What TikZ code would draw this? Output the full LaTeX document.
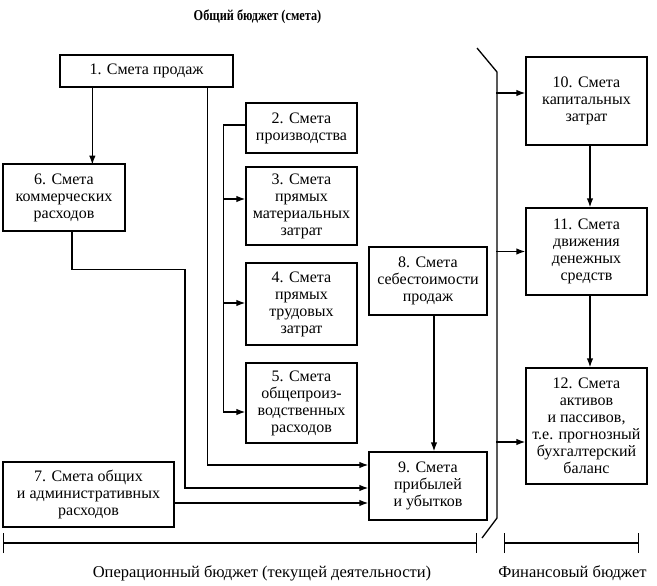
\documentclass[tikz,border=0pt]{standalone}
\usepackage{fontspec}
\setmainfont{Liberation Serif}
\newfontfamily\headfont[FakeStretch=0.82]{Liberation Serif}
\usetikzlibrary{arrows.meta}

\begin{document}
\begin{tikzpicture}[x=1pt,y=-1pt,
  box/.style={draw, line width=1.3pt, align=center, inner sep=0pt,
    font=\fontsize{16}{17}\selectfont},
  link/.style={line width=1.3pt, -{Latex[length=9pt,width=6.5pt]}},
  line/.style={line width=1.3pt},
  span/.style={line width=1.3pt, {Bar[width=20pt]}-{Bar[width=20pt]}},
  caption/.style={font=\fontsize{16.5}{18}\selectfont}]
\useasboundingbox (0,0) rectangle (657,586);

\node[font=\headfont\bfseries\fontsize{15}{17}\selectfont] (title) at (257.5,17) {Общий бюджет (смета)};

% operating budget
\node[box, minimum width=173, minimum height=32] (b1) at (146.5,71) {1. Смета продаж};
\node[box, minimum width=111, minimum height=50] (b2) at (301.5,128) {2. Смета\\производства};
\node[box, minimum width=111, minimum height=78] (b3) at (301.5,206) {3. Смета\\прямых\\материальных\\затрат};
\node[box, minimum width=111, minimum height=82] (b4) at (301.5,304) {4. Смета\\прямых\\трудовых\\затрат};
\node[box, minimum width=111, minimum height=80] (b5) at (301.5,403) {5. Смета\\общепроиз-\\водственных\\расходов};
\node[box, minimum width=122, minimum height=67] (b6) at (64,197.5) {6. Смета\\коммерческих\\расходов};
\node[box, minimum width=171, minimum height=65] (b7) at (88.5,494.5) {7. Смета общих\\и административных\\расходов};
\node[box, minimum width=118, minimum height=68] (b8) at (428,281) {8. Смета\\себестоимости\\продаж};
\node[box, minimum width=118, minimum height=68] (b9) at (428,486) {9. Смета\\прибылей\\и убытков};

% financial budget
\node[box, minimum width=121, minimum height=88] (b10) at (586.5,101) {10. Смета\\капитальных\\затрат};
\node[box, minimum width=121, minimum height=87] (b11) at (586.5,251.5) {11. Смета\\движения\\денежных\\средств};
\node[box, minimum width=121, minimum height=116] (b12) at (586.5,426) {12. Смета\\активов\\и пассивов,\\т.е. прогнозный\\бухгалтерский\\баланс};

\draw[link] ([xshift=33]b1.south west) -- ++(0,77);
\draw[link] ([xshift=-26]b1.south east) |- ([yshift=21]b9.west);
\draw[link] ([xshift=8]b6.south) -- ++(0,38) -- ++(113,0) |- ([yshift=-2]b9.west);
\draw[link] ([yshift=-8.5]b7.east) -- ([yshift=-17]b9.west);
\draw[link] ([xshift=6]b8.south) -- ([xshift=6]b9.north);

\draw[link] ([yshift=3]b2.west) -- ++(-22,0) |- ([yshift=-9]b5.west);
\foreach \n/\dy in {b3/7, b4/1}
  \draw[link] ([yshift=\dy]\n.west) ++(-22,0) -- ([yshift=\dy]\n.west);

% divider
\coordinate (d1) at (477,48);
\coordinate (d2) at (497,72);
\coordinate (d3) at (497,518);
\coordinate (d4) at (482,538);
\draw[line] (d1) -- (d2) -- (d3) -- (d4);
\foreach \n/\dy in {b10/8, b11/0, b12/-16}
  \draw[link] ([yshift=\dy]\n.west) ++(-29,0) -- ([yshift=\dy]\n.west);
\draw[link] ([xshift=3.5]b10.south) -- ([xshift=3.5]b11.north);
\draw[link] ([xshift=3.5]b11.south) -- ([xshift=3.5]b12.north);

% spans
\coordinate (o1) at (3,543);
\coordinate (o2) at (477,543);
\coordinate (f1) at (504,543);
\coordinate (f2) at (639,543);
\draw[span] (o1) -- (o2);
\draw[span] (f1) -- (f2);
\node[caption] (opl) at (262,573) {Операционный бюджет (текущей деятельности)};
\node[caption] (fin) at (572.5,573) {Финансовый бюджет};
\end{tikzpicture}
\end{document}
